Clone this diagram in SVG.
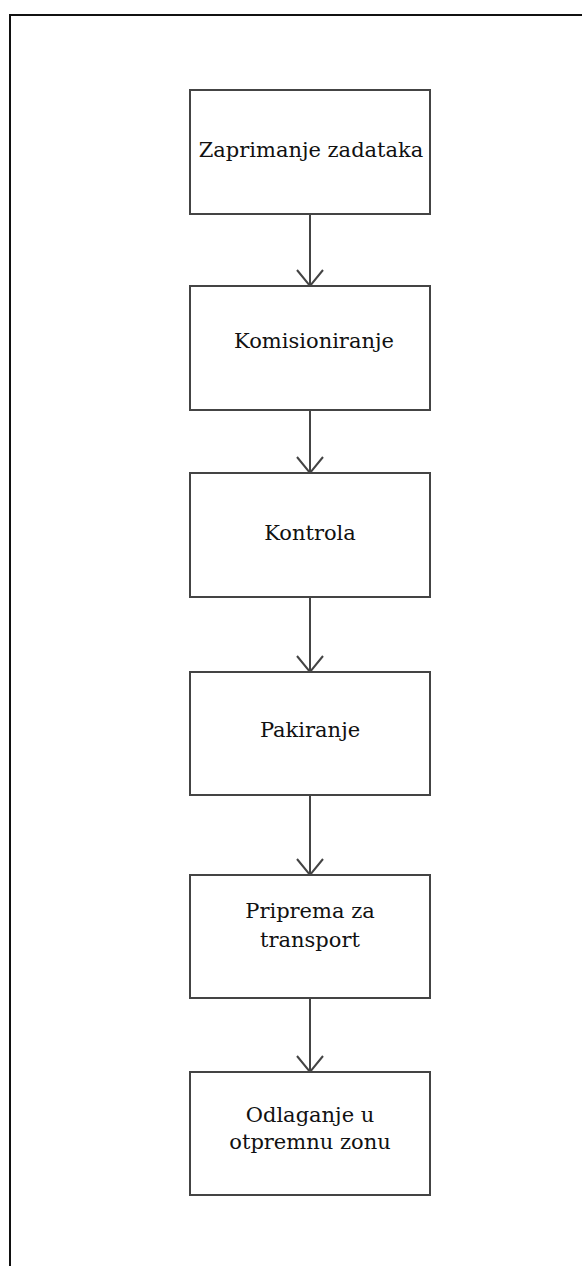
<svg xmlns="http://www.w3.org/2000/svg" width="582" height="1266" viewBox="0 0 582 1266">
<style>
.box{fill:#fff;stroke:#444;stroke-width:2}
.lbl{font-family:"DejaVu Serif","Liberation Serif",serif;font-size:21px;fill:#111;text-anchor:middle}
.conn{stroke:#444;stroke-width:2;fill:none}
</style>
<defs>
<marker id="arr" markerWidth="20" markerHeight="28" refX="17" refY="14" orient="auto" markerUnits="userSpaceOnUse" viewBox="0 0 20 28">
<path d="M1,1 L17,14 L1,27" fill="none" stroke="#444" stroke-width="2"/>
</marker>
</defs>
<rect width="582" height="1266" fill="#fff"/>
<path d="M10,1266 L10,15 L582,15" fill="none" stroke="#111" stroke-width="2"/>
<g id="connectors">
<line class="conn" x1="310" y1="214" x2="310" y2="286" marker-end="url(#arr)"/>
<line class="conn" x1="310" y1="410" x2="310" y2="473" marker-end="url(#arr)"/>
<line class="conn" x1="310" y1="597" x2="310" y2="672" marker-end="url(#arr)"/>
<line class="conn" x1="310" y1="795" x2="310" y2="875" marker-end="url(#arr)"/>
<line class="conn" x1="310" y1="998" x2="310" y2="1072" marker-end="url(#arr)"/>
</g>
<g id="n1"><rect class="box" x="190" y="90" width="240" height="124"/><text class="lbl" x="311" y="157">Zaprimanje zadataka</text></g>
<g id="n2"><rect class="box" x="190" y="286" width="240" height="124"/><text class="lbl" x="314" y="348">Komisioniranje</text></g>
<g id="n3"><rect class="box" x="190" y="473" width="240" height="124"/><text class="lbl" x="310" y="540">Kontrola</text></g>
<g id="n4"><rect class="box" x="190" y="672" width="240" height="123"/><text class="lbl" x="310" y="737">Pakiranje</text></g>
<g id="n5"><rect class="box" x="190" y="875" width="240" height="123"/><text class="lbl" x="310" y="918">Priprema za</text><text class="lbl" x="310" y="947">transport</text></g>
<g id="n6"><rect class="box" x="190" y="1072" width="240" height="123"/><text class="lbl" x="310" y="1122">Odlaganje u</text><text class="lbl" x="310" y="1149">otpremnu zonu</text></g>
</svg>
